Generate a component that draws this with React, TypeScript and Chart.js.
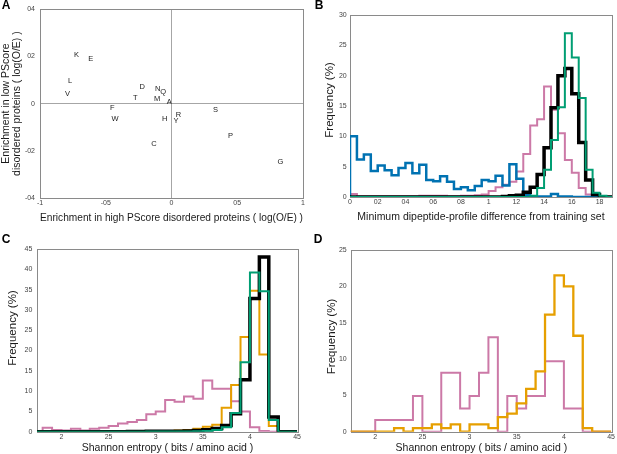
import React, { useEffect, useRef } from "react";
import { Chart, registerables } from "chart.js";

Chart.register(...registerables);

const FONT = "'Liberation Sans', Arial, Helvetica, sans-serif";
const BLUE = "#0072b2";
const PINK = "#cc79a7";
const GREEN = "#009e73";
const ORANGE = "#e69f00";
const BLACK = "#000000";

// ---------------- Panel A: residue enrichment ----------------
const residueLetters = ["K", "E", "L", "V", "D", "N", "Q", "T", "M", "A", "F", "W", "H", "R", "Y", "S", "P", "C", "G"];
const highPScoreEnrichment = [-0.722, -0.615, -0.772, -0.79, -0.223, -0.104, -0.063, -0.276, -0.109, -0.018, -0.451, -0.43, -0.051, 0.053, 0.035, 0.334, 0.448, -0.134, 0.828];
const lowPScoreEnrichment = [0.208, 0.19, 0.094, 0.04, 0.069, 0.061, 0.049, 0.024, 0.02, 0.006, -0.017, -0.065, -0.065, -0.049, -0.074, -0.027, -0.135, -0.17, -0.248];
const aXTickValues = [-1, -0.5, 0, 0.5, 1];
const aXTickLabels = ["-1", "-05", "0", "05", "1"];
const aYTickValues = [-0.4, -0.2, 0, 0.2, 0.4];
const aYTickLabels = ["-04", "-02", "0", "02", "04"];

// ---------------- Panel B: dipeptide-profile difference ----------------
const bBinStart = 0;
const bBinWidth = 0.05;
const bBlue = [10.0, 6.2, 7.0, 4.3, 5.2, 4.4, 3.6, 4.8, 5.6, 3.9, 5.3, 2.8, 2.6, 3.4, 2.5, 1.3, 1.6, 1.1, 1.8, 2.8, 2.6, 3.5, 1.9, 5.4, 3.0, 0.3, 0.1, 0.1, 0.1, 0.5, 0.1, 0.1, 0, 0, 0, 0, 0, 0];
const bPink = [0.5, 0.1, 0.1, 0.1, 0.1, 0.1, 0.1, 0.1, 0.1, 0.1, 0.2, 0.2, 0.2, 0.2, 0.1, 0.1, 0.2, 0.2, 0.3, 0.4, 1.0, 1.6, 2.0, 2.5, 4.2, 7.1, 11.8, 12.8, 18.2, 14.4, 10.5, 6.1, 4.0, 1.5, 0.4, 0.1, 0, 0];
const bBlack = [0, 0, 0, 0, 0, 0, 0, 0, 0, 0, 0, 0, 0, 0, 0, 0, 0, 0, 0, 0, 0, 0, 0.1, 0.2, 0.3, 0.8, 1.6, 3.7, 8.1, 14.7, 20.0, 21.2, 17.0, 9.0, 2.8, 0.4, 0, 0];
const bGreen = [0, 0, 0, 0, 0, 0, 0, 0, 0, 0, 0, 0, 0, 0, 0, 0, 0, 0, 0, 0, 0, 0, 0, 0, 0, 0, 0.2, 1.5, 4.5, 9.4, 14.8, 27.0, 23.0, 16.3, 4.5, 0.7, 0.2, 0];
const bXTickValues = [0, 0.2, 0.4, 0.6, 0.8, 1, 1.2, 1.4, 1.6, 1.8];
const bXTickLabels = ["0", "02", "04", "06", "08", "1", "12", "14", "16", "18"];
const bYTickValues = [0, 5, 10, 15, 20, 25, 30];
const bYTickLabels = ["0", "5", "10", "15", "20", "25", "30"];

// ---------------- Panels C & D: Shannon entropy ----------------
const entropyBinStart = 1.7;
const entropyBinWidth = 0.1;
const cPink = [0.1, 1.0, 0.4, 0.3, 0.7, 0.3, 0.7, 1.0, 1.4, 2.0, 2.4, 2.9, 4.3, 5.0, 7.8, 7.4, 8.7, 8.1, 12.6, 10.6, 10.6, 7.5, 5.0, 1.1, 0.2, 0, 0, 0];
const cOrange = [0, 0, 0, 0, 0, 0, 0, 0, 0, 0, 0, 0, 0.1, 0.2, 0.2, 0.3, 0.4, 0.7, 1.2, 1.7, 5.9, 11.5, 23.3, 34.7, 19.0, 1.4, 0, 0];
const cBlack = [0, 0, 0, 0, 0, 0, 0, 0, 0, 0, 0.05, 0.05, 0.1, 0.1, 0.1, 0.1, 0.2, 0.3, 0.5, 0.8, 1.5, 4.4, 12.8, 32.8, 43.0, 3.6, 0, 0];
const cGreen = [0, 0, 0, 0, 0, 0, 0, 0, 0, 0, 0, 0, 0.05, 0.05, 0.05, 0.05, 0.05, 0.1, 0.2, 0.4, 1.1, 4.6, 17.1, 39.2, 34.6, 2.9, 0, 0];
const dPink = [0, 0, 0, 1.6, 1.6, 1.6, 1.6, 4.9, 0, 0, 8.1, 8.1, 3.2, 4.9, 8.1, 13.0, 0, 4.9, 3.2, 4.9, 4.9, 9.7, 9.7, 3.2, 3.2, 0, 0, 0];
const dOrange = [0, 0, 0, 0, 0, 0.5, 0, 0.5, 0.5, 1.0, 0.5, 1.0, 0, 1.0, 1.0, 0.5, 2.0, 2.5, 3.9, 5.9, 8.3, 16.1, 21.5, 20.0, 13.2, 0.5, 0, 0];
const entropyTickValues = [2, 2.5, 3, 3.5, 4, 4.5];
const entropyTickLabels = ["2", "25", "3", "35", "4", "45"];
const cYTickValues = [0, 5, 10, 15, 20, 25, 30, 35, 40, 45];
const cYTickLabels = ["0", "5", "10", "15", "20", "25", "30", "35", "40", "45"];
const dYTickValues = [0, 5, 10, 15, 20, 25];
const dYTickLabels = ["0", "5", "10", "15", "20", "25"];

function histogramPoints(values: number[], start: number, width: number) {
  const pts: { x: number; y: number }[] = [{ x: start, y: 0 }];
  values.forEach((v, i) => pts.push({ x: start + i * width, y: v }));
  pts.push({ x: start + values.length * width, y: 0 });
  return pts;
}

function stepSet(values: number[], start: number, width: number, color: string, lw: number) {
  return {
    type: "line",
    data: histogramPoints(values, start, width),
    borderColor: color,
    backgroundColor: color,
    borderWidth: lw,
    stepped: "before",
    pointRadius: 0,
    pointHoverRadius: 0,
    fill: false,
    tension: 0,
    borderJoinStyle: "miter",
  };
}

type Spec = {
  letter: string;
  letterPos: [number, number];
  left: number;
  top: number;
  width: number;
  height: number;
  padding: { left: number; top: number; right: number; bottom: number };
  yWidth: number;
  xHeight: number;
  xMin: number;
  xMax: number;
  xTicks: number[];
  xLabels: string[];
  xTickPad: number;
  yMin: number;
  yMax: number;
  yTicks: number[];
  yLabels: string[];
  yTickPad: number;
  xTitle: string;
  yTitle: string | string[];
  yTitlePos?: [number, number];
  datasets: any[];
  zeroLines?: boolean;
  pointLabels?: string[];
};

function axis(min: number, max: number, values: number[], labels: string[], pad: number, title: string | string[], showTitle: boolean, size: number, horizontal: boolean, zero: boolean) {
  return {
    type: "linear",
    min,
    max,
    afterBuildTicks: (s: any) => {
      s.ticks = values.map((v) => ({ value: v }));
    },
    afterFit: (s: any) => {
      if (horizontal) s.height = size;
      else s.width = size;
    },
    grid: {
      display: zero,
      drawTicks: false,
      color: (ctx: any) => (ctx.tick && Math.abs(ctx.tick.value) < 1e-9 ? "#a6a6a6" : "rgba(0,0,0,0)"),
      lineWidth: 1,
    },
    border: { display: false },
    ticks: {
      autoSkip: false,
      maxRotation: 0,
      minRotation: 0,
      padding: pad,
      color: "#444",
      font: { family: FONT, size: 7 },
      callback: (_v: any, i: number) => labels[i],
    },
    title: {
      display: showTitle,
      text: title,
      color: "#1a1a1a",
      padding: 0,
      font: { family: FONT, size: 10.5, lineHeight: 1.05 },
    },
  };
}

function makeConfig(spec: Spec): any {
  const framePlugin = {
    id: "frame",
    beforeDatasetsDraw(chart: any) {
      const { ctx, chartArea } = chart;
      ctx.save();
      ctx.strokeStyle = "#8a8a8a";
      ctx.lineWidth = 1;
      ctx.strokeRect(
        Math.round(chartArea.left) + 0.5,
        Math.round(chartArea.top) + 0.5,
        Math.round(chartArea.right - chartArea.left),
        Math.round(chartArea.bottom - chartArea.top)
      );
      ctx.restore();
    },
  };
  const textPlugin = {
    id: "panelTexts",
    afterDraw(chart: any) {
      const ctx = chart.ctx;
      ctx.save();
      ctx.fillStyle = "#000";
      ctx.font = `bold 12px ${FONT}`;
      ctx.textAlign = "center";
      ctx.textBaseline = "middle";
      ctx.fillText(spec.letter, spec.letterPos[0], spec.letterPos[1]);
      if (spec.yTitlePos) {
        ctx.fillStyle = "#1a1a1a";
        ctx.font = `11.5px ${FONT}`;
        ctx.translate(spec.yTitlePos[0], spec.yTitlePos[1]);
        ctx.rotate(-Math.PI / 2);
        ctx.fillText(Array.isArray(spec.yTitle) ? spec.yTitle.join(" ") : spec.yTitle, 0, 0);
      }
      ctx.restore();
    },
  };
  const pointLabelPlugin = {
    id: "pointLabels",
    afterDatasetsDraw(chart: any) {
      if (!spec.pointLabels) return;
      const meta = chart.getDatasetMeta(0);
      const ctx = chart.ctx;
      ctx.save();
      ctx.fillStyle = "#222";
      ctx.font = `7.5px ${FONT}`;
      ctx.textAlign = "center";
      ctx.textBaseline = "middle";
      meta.data.forEach((el: any, i: number) => {
        ctx.fillText(spec.pointLabels![i], el.x, el.y);
      });
      ctx.restore();
    },
  };
  return {
    type: "line",
    data: { datasets: spec.datasets },
    options: {
      responsive: false,
      maintainAspectRatio: false,
      animation: false,
      devicePixelRatio: 1,
      layout: { padding: spec.padding },
      plugins: { legend: { display: false }, tooltip: { enabled: false }, title: { display: false } },
      events: [],
      scales: {
        x: axis(spec.xMin, spec.xMax, spec.xTicks, spec.xLabels, spec.xTickPad, spec.xTitle, true, spec.xHeight, true, !!spec.zeroLines),
        y: axis(spec.yMin, spec.yMax, spec.yTicks, spec.yLabels, spec.yTickPad, spec.yTitle, !spec.yTitlePos, spec.yWidth, false, !!spec.zeroLines),
      },
    },
    plugins: [framePlugin, pointLabelPlugin, textPlugin],
  };
}

const specs: Spec[] = [
  {
    letter: "A",
    letterPos: [6, 6],
    left: 0,
    top: 0,
    width: 308,
    height: 227,
    padding: { left: 0.5, top: 9, right: 5, bottom: 3.5 },
    yWidth: 39.5,
    xHeight: 25.5,
    xMin: -1,
    xMax: 1,
    xTicks: aXTickValues,
    xLabels: aXTickLabels,
    xTickPad: 1,
    yMin: -0.4,
    yMax: 0.4,
    yTicks: aYTickValues,
    yLabels: aYTickLabels,
    yTickPad: 5,
    xTitle: "Enrichment in high PScore disordered proteins ( log(O/E) )",
    yTitle: ["Enrichment in low PScore", "disordered proteins ( log(O/E) )"],
    zeroLines: true,
    pointLabels: residueLetters,
    datasets: [
      {
        type: "scatter",
        data: highPScoreEnrichment.map((x, i) => ({ x, y: lowPScoreEnrichment[i] })),
        pointRadius: 0,
        pointHoverRadius: 0,
        showLine: false,
      },
    ],
  },
  {
    letter: "B",
    letterPos: [11, 6],
    left: 308,
    top: 0,
    width: 309,
    height: 227,
    padding: { left: 16.5, top: 15, right: 5, bottom: 4.5 },
    yWidth: 25.5,
    xHeight: 25.5,
    xMin: 0,
    xMax: 1.89,
    xTicks: bXTickValues,
    xLabels: bXTickLabels,
    xTickPad: 1,
    yMin: 0,
    yMax: 30,
    yTicks: bYTickValues,
    yLabels: bYTickLabels,
    yTickPad: 3.3,
    xTitle: "Minimum dipeptide-profile difference from training set",
    yTitle: "Frequency (%)",
    yTitlePos: [22, 100],
    datasets: [
      stepSet(bGreen, bBinStart, bBinWidth, GREEN, 2),
      stepSet(bBlack, bBinStart, bBinWidth, BLACK, 3.5),
      stepSet(bBlue, bBinStart, bBinWidth, BLUE, 2.5),
      stepSet(bPink, bBinStart, bBinWidth, PINK, 2),
    ],
  },
  {
    letter: "C",
    letterPos: [6, 13],
    left: 0,
    top: 227,
    width: 308,
    height: 227,
    padding: { left: 7.8, top: 22, right: 10, bottom: 0 },
    yWidth: 29.2,
    xHeight: 22.3,
    xMin: 1.74,
    xMax: 4.51,
    xTicks: entropyTickValues,
    xLabels: entropyTickLabels,
    xTickPad: 1.5,
    yMin: 0,
    yMax: 45,
    yTicks: cYTickValues,
    yLabels: cYTickLabels,
    yTickPad: 4.7,
    xTitle: "Shannon entropy ( bits / amino acid )",
    yTitle: "Frequency (%)",
    yTitlePos: [13.3, 101],
    datasets: [
      stepSet(cGreen, entropyBinStart, entropyBinWidth, GREEN, 2),
      stepSet(cBlack, entropyBinStart, entropyBinWidth, BLACK, 3.5),
      stepSet(cOrange, entropyBinStart, entropyBinWidth, ORANGE, 2),
      stepSet(cPink, entropyBinStart, entropyBinWidth, PINK, 2),
    ],
  },
  {
    letter: "D",
    letterPos: [10, 13],
    left: 308,
    top: 227,
    width: 309,
    height: 227,
    padding: { left: 18.2, top: 23, right: 5, bottom: 0 },
    yWidth: 24.5,
    xHeight: 22.3,
    xMin: 1.74,
    xMax: 4.51,
    xTicks: entropyTickValues,
    xLabels: entropyTickLabels,
    xTickPad: 1.5,
    yMin: 0,
    yMax: 25,
    yTicks: dYTickValues,
    yLabels: dYTickLabels,
    yTickPad: 4,
    xTitle: "Shannon entropy ( bits / amino acid )",
    yTitle: "Frequency (%)",
    yTitlePos: [23.7, 109.5],
    datasets: [
      stepSet(dOrange, entropyBinStart, entropyBinWidth, ORANGE, 2.3),
      stepSet(dPink, entropyBinStart, entropyBinWidth, PINK, 2),
    ],
  },
];

function Panel({ spec }: { spec: Spec }) {
  const ref = useRef<HTMLCanvasElement | null>(null);
  useEffect(() => {
    if (!ref.current) return;
    const chart = new Chart(ref.current, makeConfig(spec));
    return () => chart.destroy();
  }, [spec]);
  return (
    <canvas
      ref={ref}
      width={spec.width}
      height={spec.height}
      style={{ position: "absolute", left: spec.left, top: spec.top, width: spec.width, height: spec.height }}
    />
  );
}

export default function App() {
  return (
    <div style={{ position: "absolute", left: 0, top: 0, width: 617, height: 454, background: "#ffffff", overflow: "hidden" }}>
      {specs.map((s) => (
        <Panel key={s.letter} spec={s} />
      ))}
    </div>
  );
}
